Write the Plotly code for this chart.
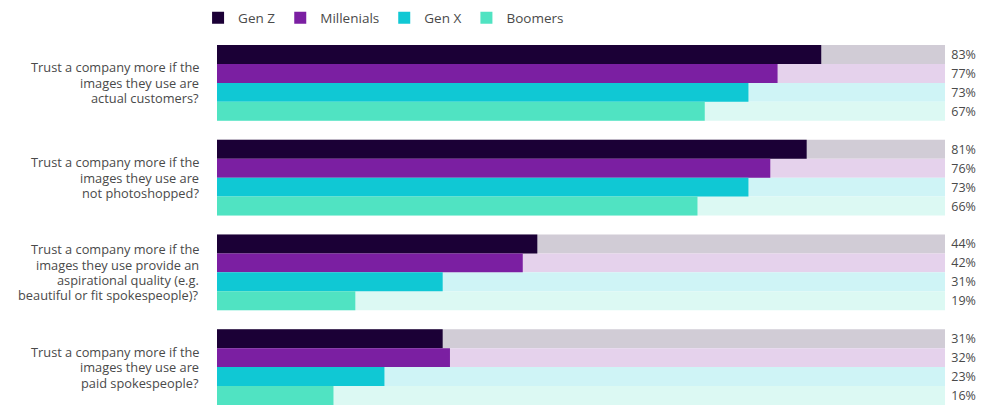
import plotly.graph_objects as go

questions = [
    "Trust a company more if the<br>images they use are<br>actual customers?",
    "Trust a company more if the<br>images they use are<br>not photoshopped?",
    "Trust a company more if the<br>images they use provide an<br>aspirational quality (e.g.<br>beautiful or fit spokespeople)?",
    "Trust a company more if the<br>images they use are<br>paid spokespeople?",
]
series_names = ["Gen Z", "Millenials", "Gen X", "Boomers"]
gen_z = [83, 81, 44, 31]
millenials = [77, 76, 42, 32]
gen_x = [73, 73, 31, 23]
boomers = [67, 66, 19, 16]

colors = ["#1b0036", "#7b1fa2", "#10c8d4", "#50e3c2"]
bg_colors = ["#d1ccd6", "#e5d2ec", "#cff4f6", "#dcf9f3"]
text_color = "#4a4a4a"

series_values = [gen_z, millenials, gen_x, boomers]
ROWS_PER_GROUP = len(series_names) + 1
LINE_GAP = 15.4

fig = go.Figure()

# background (100%) bars carrying the value labels
for i, (name, vals) in enumerate(zip(series_names, series_values)):
    ys = [g * ROWS_PER_GROUP + i for g in range(len(questions))]
    fig.add_trace(go.Bar(
        x=[100] * len(vals), y=ys, orientation="h", width=1,
        marker=dict(color=bg_colors[i], line=dict(width=0)),
        text=[f" {v}%" for v in vals], textposition="outside",
        textfont=dict(size=12.5, color=text_color, family="Open Sans"),
        constraintext="none", cliponaxis=False,
        showlegend=False, hoverinfo="skip",
    ))

for i, (name, vals) in enumerate(zip(series_names, series_values)):
    ys = [g * ROWS_PER_GROUP + i for g in range(len(questions))]
    fig.add_trace(go.Bar(
        x=vals, y=ys, orientation="h", width=1, name=name,
        marker=dict(color=colors[i], line=dict(width=0)),
    ))

for g, q in enumerate(questions):
    lines = q.split("<br>")
    n = len(lines)
    for k, line in enumerate(lines):
        fig.add_annotation(
            x=-0.024, xref="paper", y=g * ROWS_PER_GROUP + 1.5, yref="y",
            yshift=((n - 1) / 2 - k) * LINE_GAP,
            text=line, showarrow=False, xanchor="right", align="right",
            borderpad=0,
            font=dict(size=12.8, color=text_color, family="Open Sans"),
        )

n_rows = len(questions) * ROWS_PER_GROUP - 1
# the page body adds an 8px offset, so the figure is 8px smaller than the window
fig.update_layout(
    width=990, height=397,
    margin=dict(l=209, r=53, t=37, b=0, autoexpand=False),
    barmode="overlay",
    plot_bgcolor="white", paper_bgcolor="white",
    font=dict(family="Open Sans", color=text_color, size=12),
    xaxis=dict(range=[0, 100], visible=False, fixedrange=True),
    yaxis=dict(range=[n_rows - 0.5, -0.5], visible=False, fixedrange=True),
    legend=dict(orientation="h", x=-0.026, xanchor="left", y=1.075, yref="paper",
                yanchor="middle", font=dict(size=13.5, color=text_color),
                traceorder="normal"),
)

fig.write_html("out.html")
